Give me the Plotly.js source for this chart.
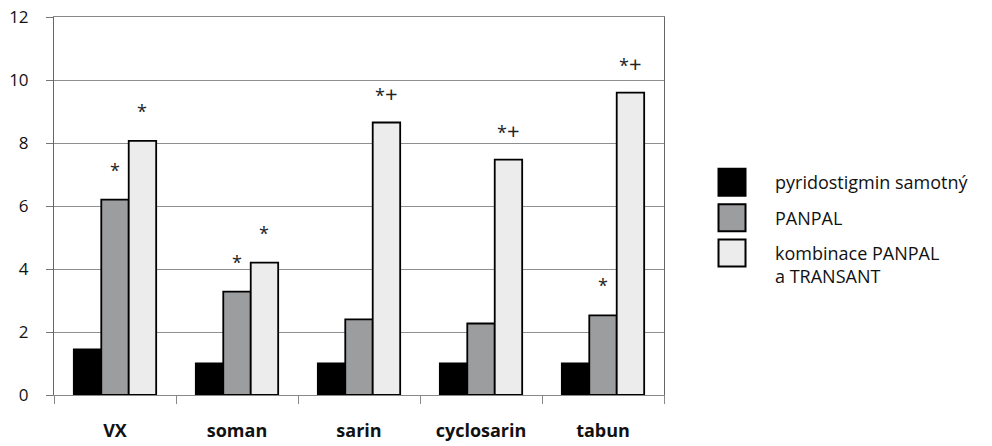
<!DOCTYPE html>
<html>
<head>
<meta charset="utf-8">
<script src="https://cdn.plot.ly/plotly-3.0.1.min.js"></script>
<style>html,body{margin:0;padding:0;background:#fff;}#chart{width:992px;height:446px;}</style>
</head>
<body>
<div id="chart"></div>
<script>
const categories = ['VX', 'soman', 'sarin', 'cyclosarin', 'tabun'];
const seriesNames = ['pyridostigmin samotný', 'PANPAL', 'kombinace PANPAL<br>a TRANSANT'];
const pyridostigmin = [1.45, 1.0, 1.0, 1.0, 1.0];
const panpal = [6.2, 3.28, 2.4, 2.27, 2.53];
const kombinace = [8.07, 4.2, 8.65, 7.47, 9.6];
const panpalMarks = ['*', '*', '', '', '*'];
const kombinaceMarks = ['*', '*', '*+', '*+', '*+'];
const yTicks = [0, 2, 4, 6, 8, 10, 12];

const colors = ['#000000', '#9c9d9f', '#ebeceb'];
const BARGAP = 0.325;
const barW = (1 - BARGAP) / 3;

const traces = [pyridostigmin, panpal, kombinace].map((vals, i) => ({
  type: 'bar',
  x: categories,
  y: vals,
  name: seriesNames[i],
  legendgroup: 'g' + i,
  marker: {color: colors[i], line: {color: '#000', width: 1.8}},
  hoverinfo: 'skip'
}));

const annotations = [];
function addMarks(vals, marks, offset) {
  vals.forEach((v, i) => {
    if (!marks[i]) return;
    annotations.push({
      xref: 'x', yref: 'y', x: i + offset, y: v,
      text: marks[i].replace('+', '<span style="font-size:22px">+</span>'),
      showarrow: false,
      yanchor: 'middle', yshift: 30,
      font: {family: 'Open Sans, sans-serif', size: 18, color: '#222'}
    });
  });
}
addMarks(panpal, panpalMarks, 0);
addMarks(kombinace, kombinaceMarks, barW);

const layout = {
  width: 992, height: 446,
  margin: {l: 54, r: 328, t: 17, b: 51},
  paper_bgcolor: '#fff', plot_bgcolor: '#fff',
  barmode: 'group', bargap: BARGAP, bargroupgap: 0,
  font: {family: 'Open Sans, sans-serif', color: '#111'},
  xaxis: {
    type: 'category',
    showline: true, linecolor: '#888', linewidth: 1, mirror: true,
    ticks: 'outside', tickson: 'boundaries', ticklen: 8, tickcolor: '#888',
    ticklabelstandoff: 19,
    tickfont: {family: 'Open Sans, sans-serif', size: 18, color: '#111', weight: 'bold'},
    automargin: false, fixedrange: true
  },
  yaxis: {
    range: [0, 12], tickvals: yTicks, ticktext: yTicks.map(String),
    showline: true, linecolor: '#666', linewidth: 1, mirror: true,
    showgrid: true, gridcolor: '#8f8f8f', gridwidth: 1,
    zeroline: false,
    ticks: 'outside', ticklen: 7, tickcolor: '#777',
    ticklabelstandoff: 14,
    tickfont: {family: 'Open Sans, sans-serif', size: 17, color: '#111'},
    automargin: false, fixedrange: true
  },
  showlegend: true,
  legend: {
    x: 1.041, xanchor: 'left', y: 0.611, yanchor: 'top',
    font: {family: 'Open Sans, sans-serif', size: 18, color: '#111'},
    itemwidth: 76, valign: 'top', tracegroupgap: 9, traceorder: 'grouped',
    bgcolor: 'rgba(0,0,0,0)', borderwidth: 0
  },
  annotations: annotations
};

// enlarge the legend swatches to the reference's 27px squares, centred 43px left of the legend text
function enlargeLegendSwatches() {
  document.querySelectorAll('.legend .traces').forEach(tr => {
    const text = tr.querySelector('.legendtext');
    const path = tr.querySelector('.legendpoints path');
    if (!text || !path) return;
    path.removeAttribute('transform');
    const tb = text.getBoundingClientRect();
    const pb = path.getBoundingClientRect();
    const ctm = path.getScreenCTM();
    const half = 13.5;
    const sx = tb.left - 43;
    const sy = pb.top + pb.height / 2;
    const lx = (sx - ctm.e) / ctm.a;
    const ly = (sy - ctm.f) / ctm.d;
    path.setAttribute('d', 'M' + (lx - half) + ',' + (ly - half) + 'H' + (lx + half) +
      'V' + (ly + half) + 'H' + (lx - half) + 'Z');
    path.style.strokeWidth = '2px';
  });
}

Plotly.newPlot('chart', traces, layout, {staticPlot: true, displayModeBar: false}).then(gd => {
  enlargeLegendSwatches();
  setTimeout(enlargeLegendSwatches, 50);
});
</script>
</body>
</html>
